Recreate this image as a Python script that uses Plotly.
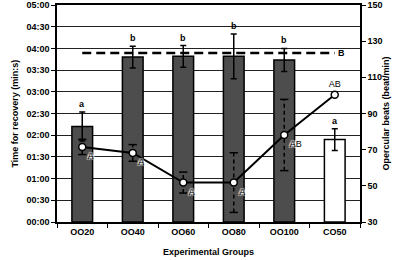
import plotly.graph_objects as go

groups = ["OO20", "OO40", "OO60", "OO80", "OO100", "CO50"]
recovery_s = [132, 228, 229, 229, 224, 114]
recovery_err = [20, 15, 15, 31, 16, 15]
recovery_letters = ["a", "b", "b", "b", "b", "a"]
bar_colors = ["#4d4d4d", "#4d4d4d", "#4d4d4d", "#4d4d4d", "#4d4d4d", "#ffffff"]

beats = [71.5, 68.2, 51.8, 51.8, 78.1, 100.4]
beats_err = [4.2, 4.6, 5.8, 16.5, 19.7, 0]
beats_letters = ["A", "A", "A", "A", "AB", "AB"]

ref_beats = 123.5
ref_letter = "B"

left_ticks = list(range(0, 301, 30))
left_ticktext = ["%02d:%02d" % (v // 60, v % 60) for v in left_ticks]

FONT = "Liberation Sans"

fig = go.Figure()

fig.add_trace(go.Bar(
    x=groups, y=recovery_s, width=0.41,
    marker=dict(color=bar_colors, line=dict(color="black", width=1.5)),
    error_y=dict(type="data", array=recovery_err, color="black", thickness=1.5, width=3),
    yaxis="y", showlegend=False,
))

# reference dashed line (right axis)
fig.add_trace(go.Scatter(
    x=[groups[0], groups[-1]], y=[ref_beats, ref_beats], mode="lines",
    line=dict(color="black", width=2.5, dash="9px,5px"),
    yaxis="y2", showlegend=False, hoverinfo="skip",
))
fig.add_annotation(x=groups[-1], y=ref_beats, yref="y2", text="<b>" + ref_letter + "</b>",
                   showarrow=False, xanchor="left", xshift=1, font=dict(family=FONT, size=9, color="black"))

# dashed error bars for beats
ex, ey = [], []
cx, cy = [], []
for g, v, e in zip(groups, beats, beats_err):
    if e > 0:
        ex += [g, g, None]
        ey += [v - e, v + e, None]
        cx += [g, g]
        cy += [v - e, v + e]
fig.add_trace(go.Scatter(x=ex, y=ey, mode="lines", line=dict(color="black", width=1.5, dash="4px,3px"),
                         yaxis="y2", showlegend=False, hoverinfo="skip"))
fig.add_trace(go.Scatter(x=cx, y=cy, mode="markers",
                         marker=dict(symbol="line-ew", size=6, line=dict(color="black", width=1.5)),
                         yaxis="y2", showlegend=False, hoverinfo="skip"))

text_pos = ["bottom right"] * 5 + ["top center"]
fig.add_trace(go.Scatter(
    x=groups, y=beats, mode="lines+markers+text",
    text=beats_letters, textposition=text_pos,
    textfont=dict(family=FONT, size=9, color="black",
                  shadow="1px 1px 1px white, -1px -1px 1px white, 1px -1px 1px white, -1px 1px 1px white"),
    line=dict(color="black", width=2),
    marker=dict(symbol="circle", size=7, color="white", line=dict(color="black", width=1.5)),
    yaxis="y2", showlegend=False,
))

for g, v, e, t in zip(groups, recovery_s, recovery_err, recovery_letters):
    fig.add_annotation(x=g, y=v + e, yref="y", text="<b>" + t + "</b>", showarrow=False,
                       yanchor="bottom", yshift=1, font=dict(family=FONT, size=9, color="black"))

# axis titles as annotations
fig.add_annotation(xref="paper", yref="paper", x=0, y=0.5, xshift=-50, textangle=-90,
                   text="<b>Time for recovery (min:s)</b>", showarrow=False,
                   font=dict(family=FONT, size=9, color="black"))
fig.add_annotation(xref="paper", yref="paper", x=1, y=0.5, xshift=32, textangle=-90,
                   text="<b>Opercular beats (beat/min)</b>", showarrow=False,
                   font=dict(family=FONT, size=9, color="black"))
fig.add_annotation(xref="paper", yref="paper", x=0.5, y=0, yshift=-30,
                   text="<b>Experimental Groups</b>", showarrow=False, yanchor="middle",
                   font=dict(family=FONT, size=9, color="black"))

fig.update_layout(
    width=400, height=260,
    margin=dict(l=57, r=40, t=5, b=38, autoexpand=False),
    plot_bgcolor="white", paper_bgcolor="white",
    font=dict(family=FONT, size=9, color="black"),
    xaxis=dict(
        type="category", range=[-0.5, 5.5], automargin=False,
        tickvals=groups, ticktext=["<b>%s</b>" % g for g in groups],
        tickson="boundaries", ticks="outside", ticklen=4, tickcolor="black",
        showline=True, linecolor="black", linewidth=1.5, mirror=True,
        showgrid=False,
    ),
    yaxis=dict(
        range=[0, 300], tickvals=left_ticks, ticktext=["<b>%s</b>" % t for t in left_ticktext],
        ticks="outside", ticklen=4, tickcolor="black", automargin=False,
        showline=True, linecolor="black", linewidth=1.5,
        showgrid=True, gridcolor="#222222", gridwidth=1,
        zeroline=False,
    ),
    yaxis2=dict(
        overlaying="y", side="right", range=[30, 150], tickvals=list(range(30, 151, 20)),
        ticktext=["<b>%d</b>" % v for v in range(30, 151, 20)],
        ticks="outside", ticklen=4, tickcolor="black", automargin=False,
        showline=True, linecolor="black", linewidth=1.5,
        showgrid=False, zeroline=False,
    ),
)

fig.write_html("out.html", config={"displayModeBar": False},
               post_script="document.body.style.margin='0px';document.body.style.padding='0px';")
